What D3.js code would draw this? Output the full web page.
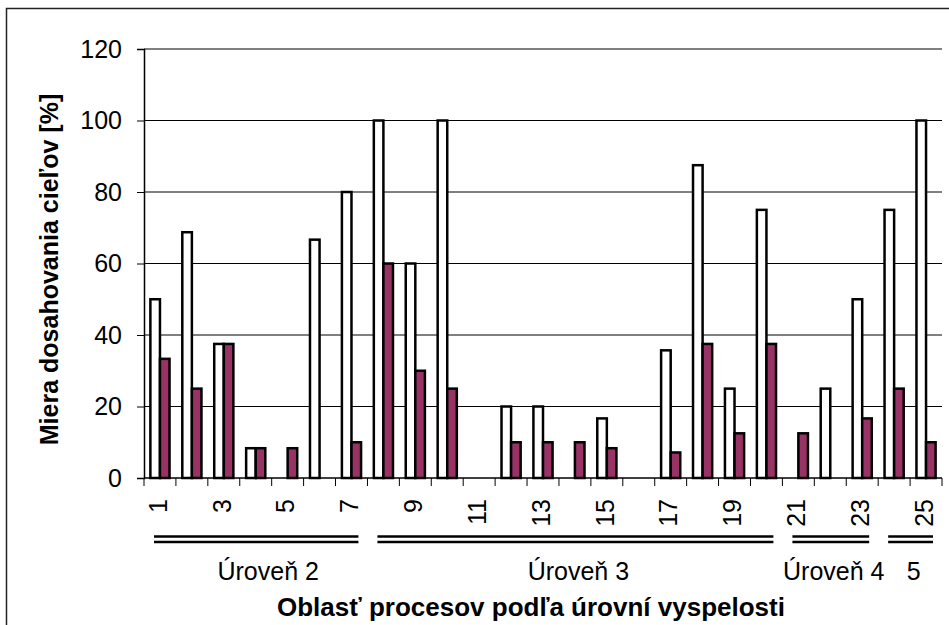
<!DOCTYPE html>
<html>
<head>
<meta charset="utf-8">
<script src="https://cdn.jsdelivr.net/npm/d3@7"></script>
<style>
  body { margin: 0; background: #fff; }
  svg { display: block; font-family: Arial, "Liberation Sans", sans-serif; }
</style>
</head>
<body>
<svg width="949" height="625"></svg>
<script>
// chart values
const categories = ["1","2","3","4","5","6","7","8","9","10","11","12","13","14","15","16","17","18","19","20","21","22","23","24","25"]
const seriesWhite = [50, 68.75, 37.5, 8.33, 0, 66.67, 80, 100, 60, 100, 0, 20, 20, 0, 16.67, 0, 35.71, 87.5, 25, 75, 0, 25, 50, 75, 100]
const seriesPurple = [33.33, 25, 37.5, 8.33, 8.33, 0, 10, 60, 30, 25, 0, 10, 10, 10, 8.33, 0, 7.14, 37.5, 12.5, 37.5, 12.5, 0, 16.67, 25, 10]
const yTicks = [0, 20, 40, 60, 80, 100, 120]
const groupLabels = ["Úroveň 2", "Úroveň 3", "Úroveň 4", "5"]
const groupFirst = ["1", "8", "21", "24"]
const groupLast = ["7", "20", "23", "25"]
const yTitle = "Miera dosahovania cieľov [%]"
const xTitle = "Oblasť procesov podľa úrovní vyspelosti"

const svg = d3.select("svg"),
    margin = {top: 49, right: 7, bottom: 147, left: 144},
    width = svg.attr("width") - margin.left - margin.right,
    height = svg.attr("height") - margin.top - margin.bottom

// outer frame
svg.append("rect")
  .attr("x", 6.5).attr("y", 8.5)
  .attr("width", 960).attr("height", 640)
  .attr("fill", "none").attr("stroke", "#222").attr("stroke-width", 1.5)

const x = d3.scaleBand().domain(categories).range([0, width]).paddingInner(0).paddingOuter(0)
const inner = d3.scaleBand().domain(["w", "p"]).range([x.bandwidth()*0.2, x.bandwidth()*0.8])
const y = d3.scaleLinear().domain([0, 120]).range([height, 0])

const g = svg.append("g").attr("transform", `translate(${margin.left},${margin.top})`)

// gridlines
g.append("g")
  .selectAll("line")
  .data(yTicks.filter(d => d > 0))
  .join("line")
    .attr("x1", 0).attr("x2", width)
    .attr("y1", d => y(d)).attr("y2", d => y(d))
    .attr("stroke", "#000").attr("stroke-width", 1)

// bars
const bars = g.append("g")
categories.forEach((c, i) => {
  [["w", seriesWhite[i], "#fff"], ["p", seriesPurple[i], "#993366"]].forEach(([k, v, col]) => {
    if (v <= 0) return
    bars.append("rect")
      .attr("x", x(c) + inner(k))
      .attr("y", y(v))
      .attr("width", inner.bandwidth())
      .attr("height", y(0) - y(v))
      .attr("fill", col)
      .attr("stroke", "#000")
      .attr("stroke-width", 2.5)
  })
})

// y axis
const yAxis = g.append("g")
  .call(d3.axisLeft(y).tickValues(yTicks).tickSize(7).tickPadding(15))
yAxis.select(".domain").attr("stroke", "#000").attr("stroke-width", 1.5)
yAxis.selectAll("text").attr("font-size", 25).attr("fill", "#000")

// x axis with ticks on band edges
const edges = categories.map(c => x(c)).concat([width])
const xAxis = g.append("g").attr("transform", `translate(0,${height})`)
xAxis.append("line").attr("x1", 0).attr("x2", width).attr("stroke", "#000").attr("stroke-width", 1.5)
xAxis.selectAll(".tk")
  .data(edges)
  .join("line")
    .attr("class", "tk")
    .attr("x1", d => d).attr("x2", d => d)
    .attr("y1", 0).attr("y2", 8)
    .attr("stroke", "#000")
xAxis.selectAll(".lbl")
  .data(categories.filter((c, i) => i % 2 === 0))
  .join("text")
    .attr("class", "lbl")
    .attr("transform", d => `translate(${x(d) + x.bandwidth()/2 - 2},${21}) rotate(-90)`)
    .attr("dy", "0.35em")
    .attr("text-anchor", "end")
    .attr("font-size", 25)
    .text(d => d)

// level brackets (double lines) and labels
groupLabels.forEach((lab, i) => {
  const x0 = x(groupFirst[i]) + 10
  const x1 = x(groupLast[i]) + x.bandwidth() - 9
  ;[58.5, 64].forEach(dy => {
    xAxis.append("line")
      .attr("x1", x0).attr("x2", x1)
      .attr("y1", dy).attr("y2", dy)
      .attr("stroke", "#000").attr("stroke-width", 2.5)
  })
  xAxis.append("text")
    .attr("x", (x0 + x1)/2 + (i === 0 ? 12 : 3))
    .attr("y", 102)
    .attr("text-anchor", "middle")
    .attr("font-size", 25)
    .text(lab)
})

// axis titles
svg.append("text")
  .attr("transform", `translate(58,${margin.top + height/2 + 6}) rotate(-90)`)
  .attr("text-anchor", "middle")
  .attr("font-size", 25)
  .attr("font-weight", "bold")
  .text(yTitle)

svg.append("text")
  .attr("x", 531)
  .attr("y", 616)
  .attr("text-anchor", "middle")
  .attr("font-size", 26)
  .attr("font-weight", "bold")
  .text(xTitle)
</script>
</body>
</html>
